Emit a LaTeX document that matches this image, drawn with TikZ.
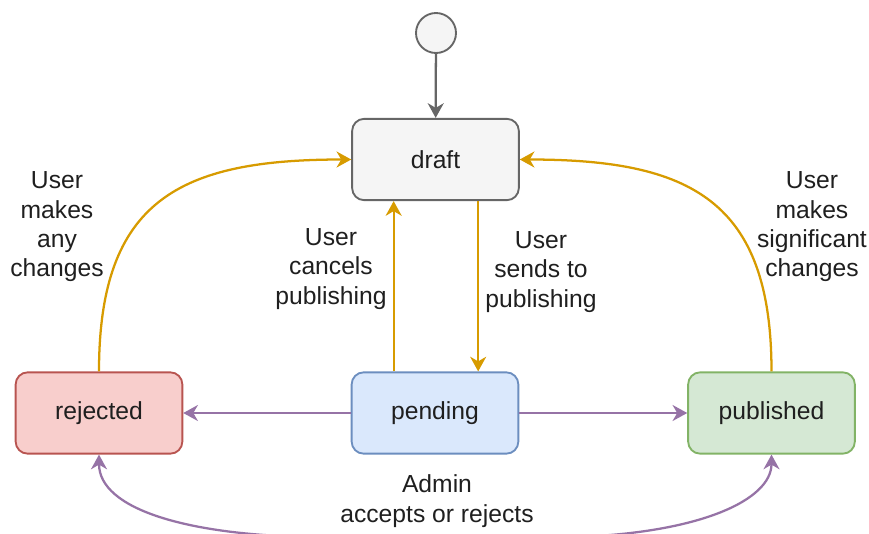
\documentclass[tikz,border=0pt]{standalone}
\usepackage{fontspec}
\setmainfont{Liberation Sans}
\usetikzlibrary{arrows.meta}
\definecolor{grayfill}{HTML}{F5F5F5}
\definecolor{graystroke}{HTML}{666666}
\definecolor{redfill}{HTML}{F8CECC}
\definecolor{redstroke}{HTML}{B85450}
\definecolor{bluefill}{HTML}{DAE8FC}
\definecolor{bluestroke}{HTML}{6C8EBF}
\definecolor{greenfill}{HTML}{D5E8D4}
\definecolor{greenstroke}{HTML}{82B366}
\definecolor{orangeedge}{HTML}{D79B00}
\definecolor{purpleedge}{HTML}{9673A6}
\definecolor{txt}{HTML}{1F1F1F}
\begin{document}
\begin{tikzpicture}[x=0.75pt,y=-0.75pt,
  state/.style={draw, rounded corners=9pt, minimum width=125pt, minimum height=61pt,
    line width=1.4pt, font=\fontsize{18.5}{22}\selectfont, text=txt},
  lbl/.style={align=center, font=\fontsize{18.5}{22}\selectfont, text=txt},
  tip/.tip={Stealth[length=11pt,width=12pt,inset=3.5pt]},
  edge/.style={line width=1.7pt, -tip},
  bothedge/.style={line width=1.7pt, tip-tip},
]
\useasboundingbox (0,0) rectangle (869,533);
\clip (0,0) rectangle (869,533);

\node[circle, draw=graystroke, fill=grayfill, minimum size=30pt, line width=1.4pt] (start) at (436,33) {};
\node[state, draw=graystroke, fill=grayfill] (draft) at (435.5,159.5) {draft};
\node[state, draw=redstroke, fill=redfill] (rejected) at (99,413) {rejected};
\node[state, draw=bluestroke, fill=bluefill] (pending) at (435,413) {pending};
\node[state, draw=greenstroke, fill=greenfill] (published) at (771.5,413) {published};

\draw[edge, graystroke] (start) -- (draft);

\draw[edge, orangeedge] ([xshift=-31pt]pending.north) -- ([xshift=-31pt]pending.north |- draft.south);
\draw[edge, orangeedge] ([xshift=32pt]draft.south) -- ([xshift=32pt]draft.south |- pending.north);
\draw[edge, orangeedge] (rejected.north) .. controls (99,200) and (180,159.5) .. (draft.west);
\draw[edge, orangeedge] (published.north) .. controls (771.5,200) and (690,159.5) .. (draft.east);

\draw[edge, purpleedge] (pending) -- (rejected);
\draw[edge, purpleedge] (pending) -- (published);
\draw[bothedge, purpleedge] (rejected.south) .. controls (99,510) and (190,535) .. (310,537)
  -- (575,537) .. controls (700,533) and (771.5,500) .. (published.south);

\node[lbl] (l1) at (57,227) {User\\makes\\any\\changes};
\node[lbl] (l2) at (331,269) {User\\cancels\\publishing};
\node[lbl] (l3) at (541,272) {User\\sends to\\publishing};
\node[lbl] (l4) at (812,227) {User\\makes\\significant\\changes};
\node[lbl] (l5) at (437,501) {Admin\\accepts or rejects};
\end{tikzpicture}
\end{document}
